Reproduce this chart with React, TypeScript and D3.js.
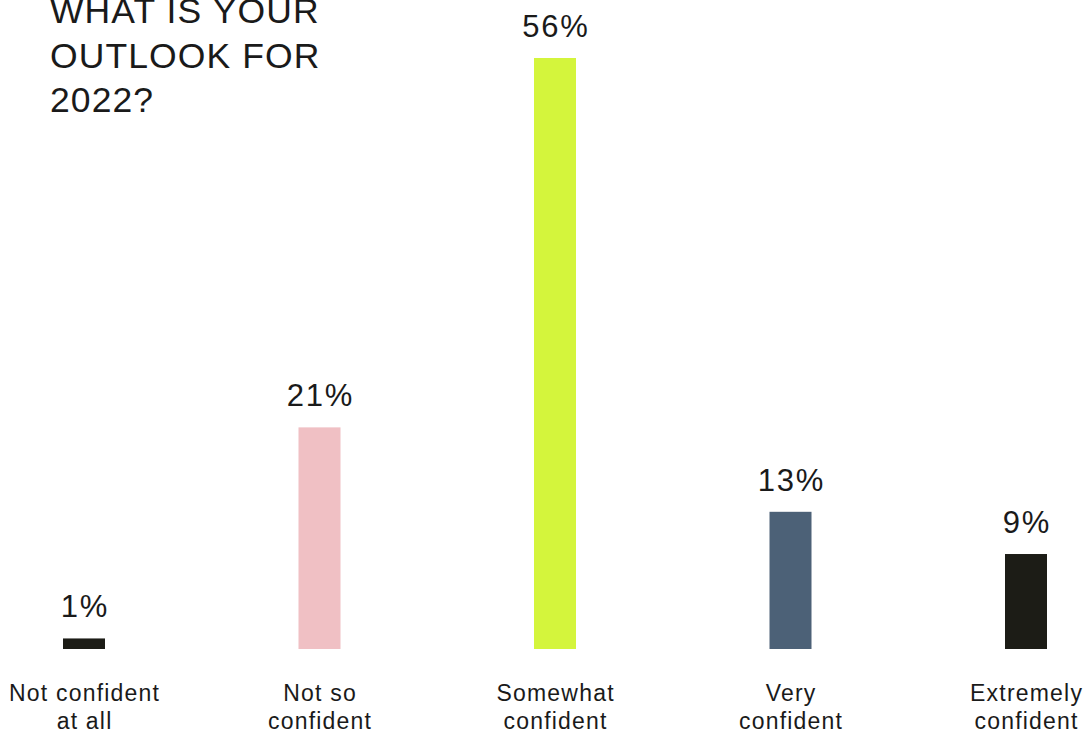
import React from "react";
import * as d3 from "d3";

const categories: string[][] = [
  ["Not confident", "at all"],
  ["Not so", "confident"],
  ["Somewhat", "confident"],
  ["Very", "confident"],
  ["Extremely", "confident"],
];
const values: number[] = [1, 21, 56, 13, 9];
const colors: string[] = ["#1c1c16", "#f0c0c4", "#d4f53c", "#4c6177", "#1c1c16"];
const titleLines: string[] = ["WHAT IS YOUR", "OUTLOOK FOR", "2022?"];

const W = 1091;
const H = 732;
const FONT = "'Liberation Sans', Arial, Helvetica, sans-serif";
const TEXT = "#1a1a1a";

export default function App() {
  const x = d3
    .scalePoint<number>()
    .domain(d3.range(values.length))
    .range([84, 1026]);
  const y = d3.scaleLinear().domain([0, 56]).range([649, 58]);
  const barW = 42;

  return (
    <div style={{ position: "absolute", left: 0, top: 0 }}>
      <svg width={W} height={H} style={{ display: "block", background: "#fff" }}>
        <g fontFamily={FONT} fill={TEXT}>
          {titleLines.map((t, i) => (
            <text key={t} x={50} y={23 + i * 44.5} fontSize={35.5} letterSpacing={1.1}>
              {t}
            </text>
          ))}
        </g>
        {values.map((v, i) => {
          const cx = x(i) as number;
          return (
            <g key={i}>
              <rect
                x={cx - barW / 2}
                y={y(v)}
                width={barW}
                height={y(0) - y(v)}
                fill={colors[i]}
              />
              <text
                x={cx + 1}
                y={y(v) - 21}
                textAnchor="middle"
                fontFamily={FONT}
                fontSize={31}
                letterSpacing={1.8}
                fill={TEXT}
              >
                {v}%
              </text>
              {categories[i].map((line, j) => (
                <text
                  key={j}
                  x={cx + 0.6}
                  y={701 + j * 28}
                  textAnchor="middle"
                  fontFamily={FONT}
                  fontSize={23}
                  letterSpacing={1.2}
                  fill={TEXT}
                >
                  {line}
                </text>
              ))}
            </g>
          );
        })}
      </svg>
    </div>
  );
}
